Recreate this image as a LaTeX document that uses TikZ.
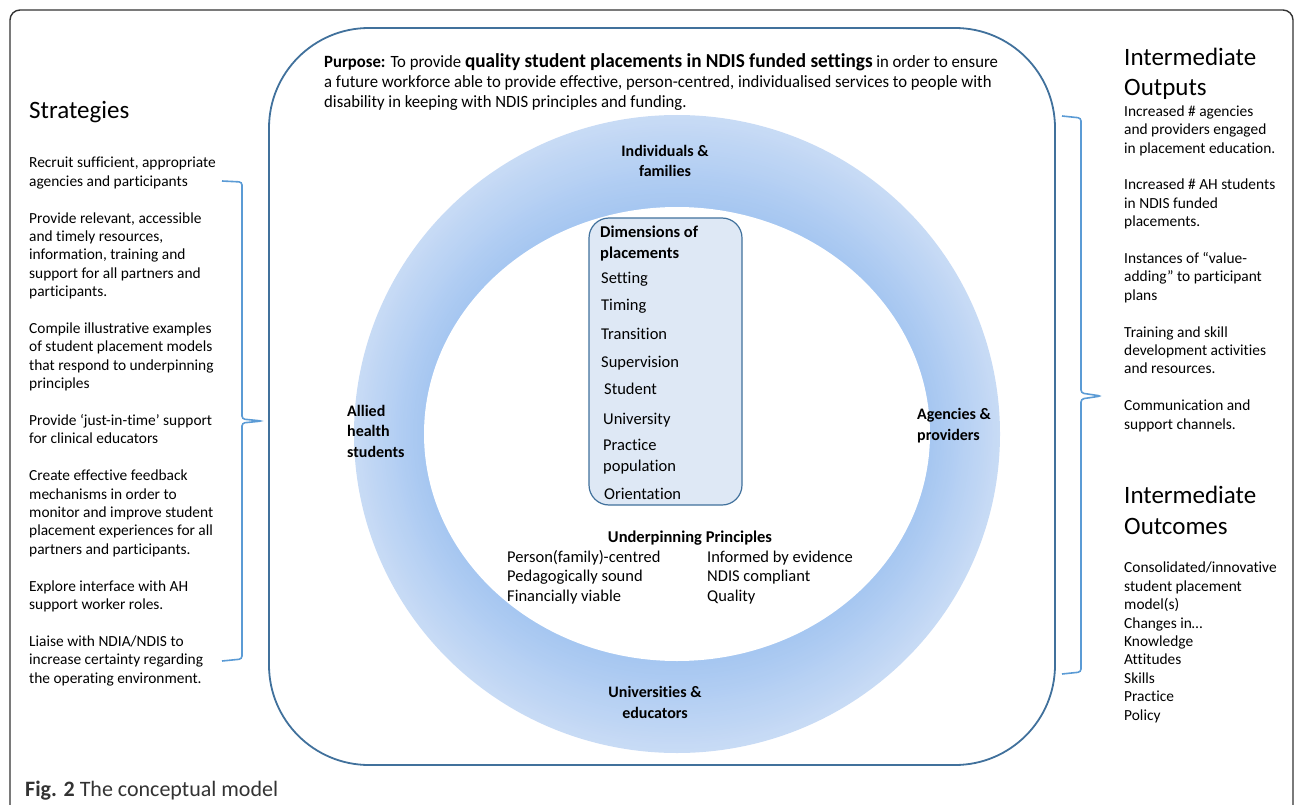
\documentclass[tikz,border=0pt]{standalone}
\usepackage{fontspec}
\setmainfont{Carlito}[Ligatures={TeX,NoCommon}]
\newfontfamily\narrowfont{Carlito}[FakeStretch=0.97, Ligatures={TeX,NoCommon}]

\definecolor{framegray}{HTML}{333333}
\definecolor{modelblue}{HTML}{41719C}
\definecolor{braceblue}{HTML}{5B9BD5}
\definecolor{ringout}{HTML}{C8DBF5}
\definecolor{ringin}{HTML}{A5C6F1}
\definecolor{dimfill}{HTML}{DEE8F5}

\tikzset{
  txt/.style={font=\fontsize{15.4}{18.4}\selectfont, align=left, inner sep=0pt, anchor=base west},
  heading/.style={font=\fontsize{25}{30.5}\selectfont, align=left, inner sep=0pt, anchor=base west},
  ringlabel/.style={font=\bfseries\fontsize{16}{20.5}\selectfont, inner sep=0pt},
  inner/.style={font=\fontsize{16.5}{19.5}\selectfont, align=left, inner sep=0pt, anchor=base west},
  brace/.style={draw=braceblue, line width=1.6pt, rounded corners=3pt},
}

\begin{document}
\begin{tikzpicture}[x=1pt,y=-1pt]
\useasboundingbox (0,0) rectangle (1295,805);
\clip (0,0) rectangle (1295,805);

% frame round everything
\draw[framegray, line width=1.4pt, rounded corners=10pt] (10,10) rectangle (1293,840);

% shaded ring, light outside, darker towards the hole
\foreach \k in {0,...,40} {
  \pgfmathsetmacro\rx{323-1.75*\k}
  \pgfmathsetmacro\ry{319-2.3*\k}
  \pgfmathtruncatemacro\mix{2.5*\k}
  \fill[ringin!\mix!ringout] (677,434) ellipse [x radius=\rx pt, y radius=\ry pt];
}
\fill[white] (677,434) ellipse [x radius=253pt, y radius=227pt];

% model boundary
\draw[modelblue, line width=1.8pt, rounded corners=100pt] (269,28) rectangle (1055,765);

% last line sits on the given baseline
\node[txt, font=\narrowfont\fontsize{17.2}{20}\selectfont] (purpose) at (324,108)
  {{\bfseries Purpose:} To provide {\bfseries\fontsize{19.8}{20}\selectfont quality student placements in NDIS funded settings} in order to ensure\\
   a future workforce able to provide effective, person-centred, individualised services to people with\\
   disability in keeping with NDIS principles and funding.};

% stakeholders on the ring
\node[ringlabel, align=center, anchor=base] (families) at (665,177) {Individuals \&\\families};
\node[ringlabel, align=left, anchor=base west] (students) at (347,457) {Allied\\health\\students};
\node[ringlabel, align=left, anchor=base west] (agencies) at (917,440) {Agencies \&\\providers};
\node[ringlabel, align=center, anchor=base] (unis) at (655,718) {Universities \&\\educators};

% dimensions box
\node[draw=modelblue, fill=dimfill, line width=1.2pt, rounded corners=20pt,
      minimum width=153pt, minimum height=287pt, inner sep=0pt] (dims) at (665.5,361.5) {};
\node[ringlabel, font=\bfseries\fontsize{16.5}{20.5}\selectfont, align=left, anchor=base west] (dimhead) at (600,258) {Dimensions of\\placements};
\foreach \y/\x/\t [count=\i] in {283/601/Setting, 310/601/Timing, 339/601/Transition,
    367/601/Supervision, 394/604/Student, 424/603/University, 450/603/Practice,
    471/603/population, 499/604/Orientation}
  \node[inner] (dim\i) at (\x,\y) {\t};

% principles
\node[ringlabel, font=\bfseries\fontsize{16.5}{20}\selectfont, anchor=base] (prinhead) at (690,542) {Underpinning Principles};
\node[inner] (prinl) at (507,601)
  {Person(family)-centred\\Pedagogically sound\\Financially viable};
\node[inner] (prinr) at (707,601)
  {Informed by evidence\\NDIS compliant\\Quality};

% left column
\node[heading] (strathead) at (29,119) {Strategies};
\node[txt] (strat) at (29,683)
  {Recruit sufficient, appropriate\\agencies and participants\\[18.4pt]
   Provide relevant, accessible\\and timely resources,\\information, training and\\support for all partners and\\participants.\\[18.4pt]
   Compile illustrative examples\\of student placement models\\that respond to underpinning\\principles\\[18.4pt]
   Provide `just-in-time' support\\for clinical educators\\[18.4pt]
   Create effective feedback\\mechanisms in order to\\monitor and improve student\\placement experiences for all\\partners and participants.\\[18.4pt]
   Explore interface with AH\\support worker roles.\\[18.4pt]
   Liaise with NDIA/NDIS to\\increase certainty regarding\\the operating environment.};
\draw[brace] (222,181) -- (242,182) -- (242,419) -- (262,421) -- (242,423) -- (242,659) -- (222,661);

% right column
\node[heading] (outhead) at (1124,96) {Intermediate\\Outputs};
\node[txt] (outputs) at (1124,429)
  {Increased \# agencies\\and providers engaged\\in placement education.\\[18.4pt]
   Increased \# AH students\\in NDIS funded\\placements.\\[18.4pt]
   Instances of ``value-\\adding'' to participant\\plans\\[18.4pt]
   Training and skill\\development activities\\and resources.\\[18.4pt]
   Communication and\\support channels.};
\draw[brace] (1062,116) -- (1081,118) -- (1081,393) -- (1101,396) -- (1081,399) -- (1081,672) -- (1062,674);

\node[heading] (outcomehead) at (1124,534) {Intermediate\\Outcomes};
\node[txt] (outcomes) at (1124,720)
  {Consolidated/innovative\\student placement\\model(s)\\Changes in\ldots\\Knowledge\\Attitudes\\Skills\\Practice\\Policy};

% caption
\node[txt, font=\fontsize{22}{24}\selectfont, text=framegray] (caption) at (25,796)
  {{\bfseries Fig. 2} The conceptual model};
\end{tikzpicture}
\end{document}
